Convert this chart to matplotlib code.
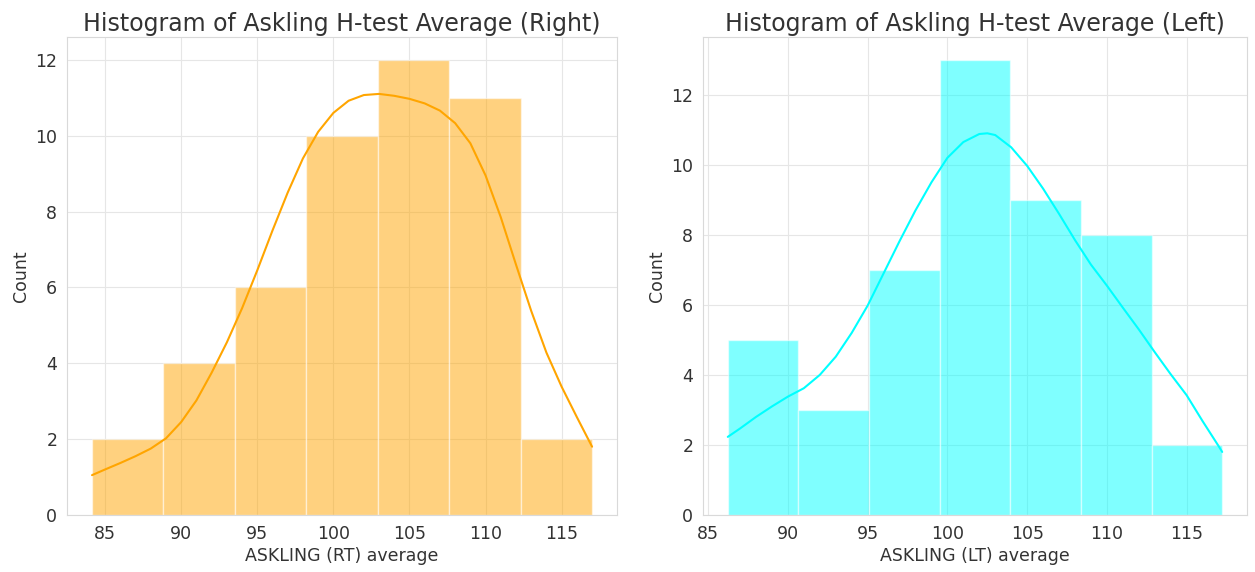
import numpy as np
import matplotlib
matplotlib.use("Agg")
import matplotlib.pyplot as plt
import seaborn as sns

# ---- data ----
rt_bin_start = 84.14
rt_bin_width = 4.694
rt_counts = [2, 4, 6, 10, 12, 11, 2]
rt_kde_x = [84.14, 85, 86, 87, 88, 89, 90, 91, 92, 93, 94, 95, 96, 97, 98, 99, 100,
            101, 102, 103, 104, 105, 106, 107, 108, 109, 110, 111, 112, 113, 114,
            115, 116, 117]
rt_kde_y = [1.05, 1.20, 1.37, 1.55, 1.75, 2.02, 2.45, 3.02, 3.75, 4.55, 5.45, 6.45,
            7.50, 8.50, 9.40, 10.10, 10.60, 10.92, 11.07, 11.10, 11.05, 10.97, 10.85,
            10.66, 10.33, 9.80, 8.95, 7.85, 6.60, 5.38, 4.28, 3.38, 2.58, 1.80]

lt_bin_start = 86.23
lt_bin_width = 4.43
lt_counts = [5, 3, 7, 13, 9, 8, 2]
lt_kde_x = [86.23, 87, 88, 89, 90, 91, 92, 93, 94, 95, 96, 97, 98, 99, 100, 101,
            102, 102.5, 103, 104, 105, 106, 107, 108, 109, 110, 111, 112, 113, 114,
            115, 116, 117, 117.23]
lt_kde_y = [2.23, 2.47, 2.80, 3.10, 3.38, 3.62, 4.00, 4.52, 5.20, 5.98, 6.90, 7.82,
            8.70, 9.50, 10.20, 10.65, 10.88, 10.90, 10.85, 10.50, 9.97, 9.32, 8.60,
            7.85, 7.15, 6.55, 5.92, 5.30, 4.65, 4.02, 3.42, 2.68, 1.97, 1.80]

titles = ["Histogram of Askling H-test Average (Right)",
          "Histogram of Askling H-test Average (Left)"]
xlabels = ["ASKLING (RT) average", "ASKLING (LT) average"]
colors = ["orange", "cyan"]

sns.set_style("whitegrid", {"grid.color": "#e6e6e6", "axes.edgecolor": "#d9d9d9"})
plt.rcParams["font.family"] = ["DejaVu Sans"]

fig = plt.figure(figsize=(12.55, 5.72), dpi=100)
ax1 = fig.add_axes([0.0534, 0.0997, 0.4383, 0.8356])
ax2 = fig.add_axes([0.5602, 0.0997, 0.4335, 0.8356])

panels = [
    (ax1, rt_bin_start, rt_bin_width, rt_counts, rt_kde_x, rt_kde_y),
    (ax2, lt_bin_start, lt_bin_width, lt_counts, lt_kde_x, lt_kde_y),
]

for i, (ax, start, width, counts, kx, ky) in enumerate(panels):
    lefts = start + width * np.arange(len(counts))
    ax.bar(lefts, counts, width=width, align="edge", color=colors[i], alpha=0.5,
           edgecolor="white", linewidth=1.0)
    ax.plot(kx, ky, color=colors[i], linewidth=1.5, solid_joinstyle="round")
    ax.set_title(titles[i], fontsize=17, color="#333333", pad=4)
    ax.set_xlabel(xlabels[i], fontsize=12.5, color="#333333", labelpad=3)
    ax.set_ylabel("Count", fontsize=12.5, color="#333333")
    ax.tick_params(labelsize=12.5, colors="#333333")
    ax.set_xticks([85, 90, 95, 100, 105, 110, 115])
    ax.margins(x=0.05)
    ax.set_ylim(0, max(counts) * 1.05)
    ax.set_axisbelow(True)

fig.savefig("out.png", dpi=100)
